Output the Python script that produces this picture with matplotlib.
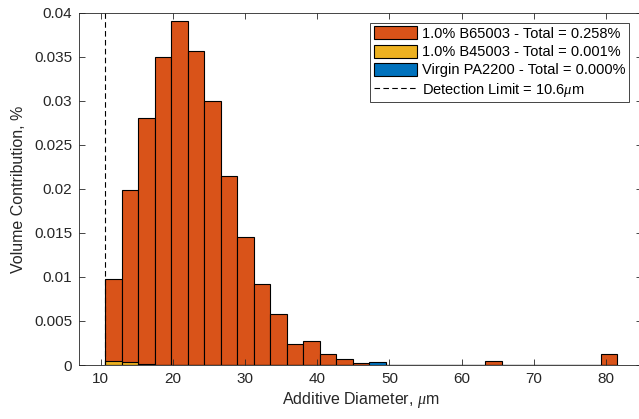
import numpy as np
import matplotlib
matplotlib.use("Agg")
import matplotlib.pyplot as plt

plt.rcParams['font.family'] = ['Liberation Sans', 'DejaVu Sans']
plt.rcParams['mathtext.fontset'] = 'custom'
plt.rcParams['mathtext.it'] = 'Liberation Serif:italic'
plt.rcParams['mathtext.rm'] = 'Liberation Sans'

# Bin layout (31 bins starting at detection limit)
bin_start = 10.6
bin_width = 2.29
n_bins = 31

b65003 = [0.0098, 0.0199, 0.0280, 0.0350, 0.0391, 0.0356, 0.0300, 0.0215,
          0.0145, 0.0092, 0.0058, 0.0024, 0.0027, 0.0013, 0.0007, 0.0002,
          0.0, 0.0, 0.0, 0.0, 0.0, 0.0, 0.0, 0.0005, 0.0, 0.0, 0.0, 0.0,
          0.0, 0.0, 0.0012]
b45003 = [0.0004, 0.0003, 0.0001] + [0.0] * 28
virgin = [0.0] * 16 + [0.0003] + [0.0] * 14

labels = ["1.0% B65003 - Total = 0.258%",
          "1.0% B45003 - Total = 0.001%",
          "Virgin PA2200 - Total = 0.000%"]
colors = [(0.85, 0.325, 0.098), (0.929, 0.694, 0.125), (0.0, 0.447, 0.741)]
detection_limit = 10.6

xticks = [10, 20, 30, 40, 50, 60, 70, 80]
yticks = [0, 0.005, 0.01, 0.015, 0.02, 0.025, 0.03, 0.035, 0.04]
ytick_labels = ["0", "0.005", "0.01", "0.015", "0.02", "0.025", "0.03", "0.035", "0.04"]

edges = bin_start + bin_width * np.arange(n_bins)

fig = plt.figure(figsize=(6.39, 4.19), dpi=100)
ax = fig.add_axes([79/639, 54/419, 563/639, 352.3/419])

handles = []
for vals, lab, col in zip([b65003, b45003, virgin], labels, colors):
    h = ax.bar(edges, vals, width=bin_width, align='edge', color=col,
               edgecolor='black', linewidth=0.8, label=lab)
    handles.append(h)

ln = ax.axvline(detection_limit, color='black', linestyle=(0, (5, 3)), linewidth=0.8,
                label=r"Detection Limit = 10.6$\mu$m")
handles.append(ln)

ax.set_xlim(7, 85)
ax.set_ylim(0, 0.04)
ax.set_xticks(xticks)
ax.set_yticks(yticks)
ax.set_yticklabels(ytick_labels)

axcol = '#262626'
for s in ax.spines.values():
    s.set_linewidth(0.6)
    s.set_color(axcol)
ax.tick_params(direction='in', length=4, width=0.6, color=axcol, labelcolor=axcol,
               labelsize=11, top=True, right=True, pad=5)
ax.set_xlabel(r"Additive Diameter, $\mu$m", fontsize=11.5, color=axcol, labelpad=3)
ax.set_ylabel("Volume Contribution, %", fontsize=11.5, color=axcol, labelpad=6)

leg = ax.legend(handles=handles, loc='upper right',
                bbox_to_anchor=(629/639, 1 - 22.7/419), bbox_transform=fig.transFigure,
                borderaxespad=0, fontsize=10.5, frameon=True, fancybox=False,
                framealpha=1, edgecolor='#262626', handlelength=3.0, handleheight=1.0,
                handletextpad=0.3, labelspacing=0.25, borderpad=0.25)
leg.get_frame().set_linewidth(0.6)
for t in leg.get_texts():
    t.set_color('black')

fig.savefig("out.png", dpi=100)
